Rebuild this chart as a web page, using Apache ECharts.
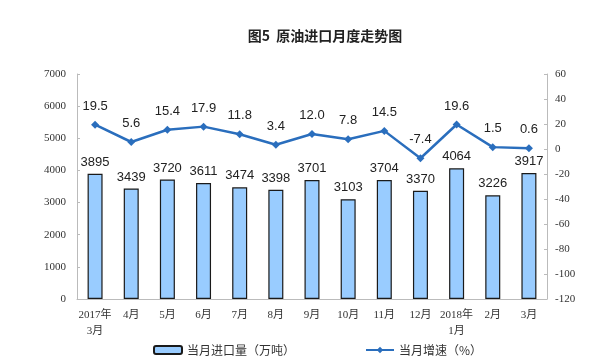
<!DOCTYPE html>
<html><head><meta charset="utf-8">
<script src="https://cdn.jsdelivr.net/npm/echarts@6/dist/echarts.min.js"></script>
<style>html,body{margin:0;padding:0;background:#fff}#c{width:610px;height:363px}</style>
</head><body><div id="c"></div>
<script>
const categories = ['2017年\n3月','4月','5月','6月','7月','8月','9月','10月','11月','12月','2018年\n1月','2月','3月'];
const importVolume = [3895,3439,3720,3611,3474,3398,3701,3103,3704,3370,4064,3226,3917];
const growthRate = [19.5,5.6,15.4,17.9,11.8,3.4,12.0,7.8,14.5,-7.4,19.6,1.5,0.6];
const growthLabels = ['19.5','5.6','15.4','17.9','11.8','3.4','12.0','7.8','14.5','-7.4','19.6','1.5','0.6'];

const serif = 'Liberation Serif, "Noto Sans CJK SC", serif';
const chart = echarts.init(document.getElementById('c'));
chart.setOption({
  animation:false,
  title:{text:'图5  原油进口月度走势图',left:320,top:24,textAlign:'center',
    textStyle:{fontFamily:'"Noto Sans CJK SC", sans-serif',fontSize:14,fontWeight:'bold',color:'#222'}},
  grid:{left:77,right:63,top:74,bottom:64},
  legend:{bottom:2,left:148,itemGap:70,itemWidth:28,itemHeight:8,
    textStyle:{fontFamily:'"Noto Sans CJK SC", sans-serif',fontSize:12,color:'#333'},
    data:[{name:'当月进口量（万吨）'},{name:'当月增速（%）'}]},
  xAxis:{type:'category',data:categories,
    axisLine:{lineStyle:{color:'#bbb'}},
    axisTick:{inside:true,length:3,lineStyle:{color:'#bbb'}},
    axisLabel:{fontFamily:serif,fontSize:11,color:'#333',interval:0,margin:8,lineHeight:16}},
  yAxis:[
    {type:'value',min:0,max:7000,interval:1000,
     axisLine:{show:true,lineStyle:{color:'#bbb'}},
     axisTick:{show:true,inside:true,length:3,lineStyle:{color:'#bbb'}},
     splitLine:{show:false},
     axisLabel:{fontFamily:serif,fontSize:11,color:'#333',margin:11,formatter:v=>String(v)}},
    {type:'value',min:-120,max:60,interval:20,
     axisLine:{show:true,lineStyle:{color:'#bbb'}},
     axisTick:{show:true,inside:true,length:3,lineStyle:{color:'#bbb'}},
     splitLine:{show:false},
     axisLabel:{fontFamily:serif,fontSize:11,color:'#333',margin:8}}
  ],
  series:[
    {name:'当月进口量（万吨）',type:'bar',data:importVolume,barWidth:15,
     itemStyle:{color:'#99ccff',borderColor:'#1a1a1a',borderWidth:1.2},
     label:{show:true,position:'top',distance:5,fontFamily:'Liberation Sans, Arial, sans-serif',fontSize:13,color:'#222'}},
    {name:'当月增速（%）',type:'line',yAxisIndex:1,data:growthRate,
     symbol:'diamond',symbolSize:8,
     lineStyle:{color:'#2a6ebd',width:2.5},itemStyle:{color:'#2a6ebd'},
     label:{show:true,position:'top',distance:8,fontFamily:'Liberation Sans, Arial, sans-serif',fontSize:13,color:'#222',
       formatter:p=>growthLabels[p.dataIndex]}}
  ]
});
</script></body></html>
